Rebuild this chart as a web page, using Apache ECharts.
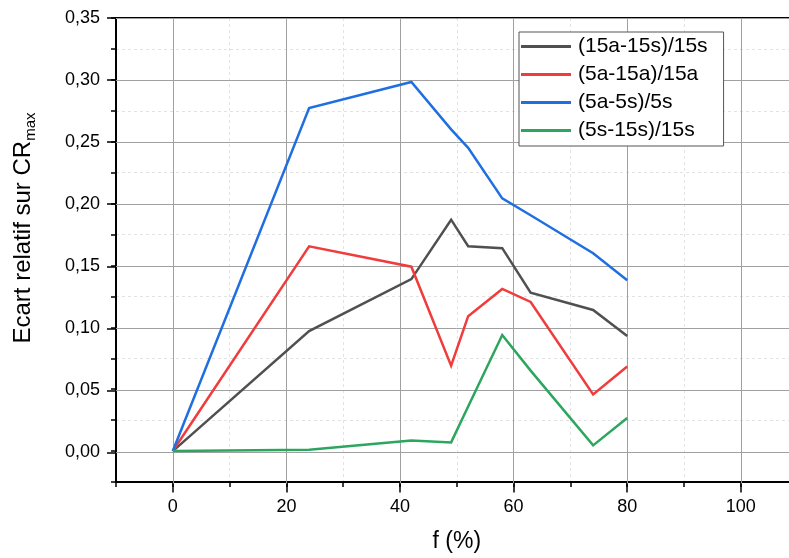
<!DOCTYPE html>
<html>
<head>
<meta charset="utf-8">
<script src="https://cdn.jsdelivr.net/npm/echarts@6/dist/echarts.min.js"></script>
<style>
html,body{margin:0;padding:0;background:#fff;overflow:hidden;}
#c{width:820px;height:558px;}
</style>
</head>
<body>
<div id="c"></div>
<script>
// Data
var fValues = [0, 24, 42, 49, 52, 58, 63, 74, 80];
var seriesNames = ['(15a-15s)/15s', '(5a-15a)/15a', '(5a-5s)/5s', '(5s-15s)/15s'];
var s15a15s = [0, 0.097, 0.139, 0.187, 0.1655, 0.164, 0.128, 0.114, 0.093];
var s5a15a  = [0, 0.1655, 0.149, 0.069, 0.109, 0.131, 0.1205, 0.0457, 0.0683];
var s5a5s   = [0, 0.2773, 0.2983, 0.260, 0.2451, 0.2042, 0.1906, 0.1599, 0.1381];
var s5s15s  = [0, 0.001, 0.0086, 0.007, 0.036, 0.0938, 0.065, 0.0046, 0.0267];
var seriesColors = ['#505050', '#f03c3c', '#1f6fe0', '#2ca65e'];

var xTitle = 'f (%)';
var yTitleMain = 'Ecart relatif sur CR';
var yTitleSub = 'max';

var FONT = '"Liberation Sans", Arial, sans-serif';
// layout (pixels); canvas is a bit wider than the window so the plot runs past the right edge
var L = 116, T = 18, B = 483.5;
var pxPerX = 5.68;
var W = 120 * pxPerX;             // x range -10 .. 110
var Hh = B - T;                   // y range -0.025 .. 0.35
var pxPerY = Hh / 0.375;
var x0 = L + 10 * pxPerX;
var minorGrid = ['#e2e2e2', 'rgba(0,0,0,0)'];

function pairs(ys) { return fValues.map(function (f, i) { return [f, ys[i]]; }); }
var allSeries = [s15a15s, s5a15a, s5a5s, s5s15s];

var chart = echarts.init(document.getElementById('c'), null, {renderer: 'canvas'});
var option = {
  animation: false,
  textStyle: {fontFamily: FONT},
  grid: [
    {left: L, top: T, width: W, height: Hh, show: true, borderColor: '#000', borderWidth: 2, backgroundColor: 'transparent', containLabel: false},
    {left: x0, top: T, width: 110 * pxPerX, height: Hh, containLabel: false},
    {left: L, top: T, width: W, height: 0.35 * pxPerY, containLabel: false}
  ],
  xAxis: [
    {gridIndex: 0, type: 'value', min: -10, max: 110, interval: 10,
     axisLine: {show: true, onZero: false, lineStyle: {color: '#000', width: 2}},
     axisTick: {show: true, inside: false, length: 5, lineStyle: {color: '#000', width: 1.5}},
     axisLabel: {show: false},
     splitLine: {show: true, lineStyle: {color: minorGrid, width: 1, type: [3, 3]}},
     name: xTitle, nameLocation: 'middle', nameGap: 48,
     nameTextStyle: {fontSize: 23, color: '#000', fontFamily: FONT}},
    {gridIndex: 1, type: 'value', min: 0, max: 110, interval: 20, z: 1,
     axisLine: {show: false, onZero: false},
     axisTick: {show: true, inside: false, length: 9, lineStyle: {color: '#000', width: 1.5}},
     axisLabel: {show: true, margin: 15, fontSize: 18, color: '#000', fontFamily: FONT,
       formatter: function (v) { return v > 100 ? '' : String(v); }},
     splitLine: {show: true, lineStyle: {color: '#a0a0a0', width: 1}}},
    {gridIndex: 2, type: 'value', min: 0, max: 1, show: false}
  ],
  yAxis: [
    {gridIndex: 0, type: 'value', min: -0.025, max: 0.35, interval: 0.025,
     axisLine: {show: true, onZero: false, lineStyle: {color: '#000', width: 2}},
     axisTick: {show: true, inside: false, length: 5, lineStyle: {color: '#000', width: 1.5}},
     axisLabel: {show: false},
     splitLine: {show: true, lineStyle: {color: minorGrid, width: 1, type: [3, 3]}}},
    {gridIndex: 1, type: 'value', min: 0, max: 1, show: false},
    {gridIndex: 2, type: 'value', min: 0, max: 0.35, interval: 0.05, z: 1,
     axisLine: {show: false, onZero: false},
     axisTick: {show: true, inside: false, length: 9, lineStyle: {color: '#000', width: 1.5}},
     axisLabel: {show: true, margin: 16, fontSize: 18, color: '#000', fontFamily: FONT,
       formatter: function (v) { return v.toFixed(2).replace('.', ','); }},
     splitLine: {show: true, lineStyle: {color: '#a0a0a0', width: 1}}}
  ],
  legend: {
    show: true, orient: 'vertical', left: 519, top: 32,
    backgroundColor: '#fff', borderColor: '#555', borderWidth: 1,
    padding: [4, 16, 5, 2], itemGap: 7, itemWidth: 50, itemHeight: 3,
    icon: 'rect',
    textStyle: {fontSize: 21, color: '#000', fontFamily: FONT, padding: [0, 0, 0, 2]},
    data: seriesNames
  },
  graphic: [{
    type: 'text', x: 23, y: 228, rotation: Math.PI / 2,
    style: {
      text: '{a|' + yTitleMain + '}{b|' + yTitleSub + '}',
      align: 'center', verticalAlign: 'middle',
      rich: {
        a: {fontSize: 24, fontFamily: FONT, fill: '#000', color: '#000', lineHeight: 30, verticalAlign: 'middle'},
        b: {fontSize: 15, fontFamily: FONT, fill: '#000', color: '#000', lineHeight: 30, verticalAlign: 'bottom'}
      }
    }
  }],
  series: allSeries.map(function (ys, i) {
    return {
      name: seriesNames[i], type: 'line', xAxisIndex: 0, yAxisIndex: 0,
      data: pairs(ys), showSymbol: false, symbol: 'none', clip: false, z: 3,
      lineStyle: {color: seriesColors[i], width: 2.5, join: 'miter'},
      itemStyle: {color: seriesColors[i]}
    };
  })
};
chart.setOption(option);
</script>
</body>
</html>
